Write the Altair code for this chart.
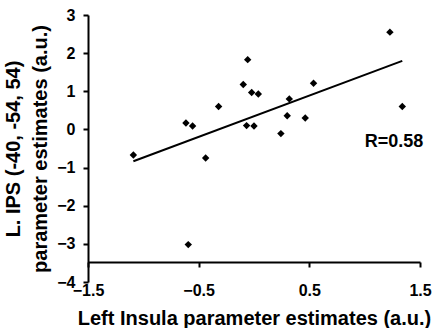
import altair as alt
import pandas as pd

# Data
insula = [-1.09, -0.615, -0.555, -0.594, -0.437, -0.32, -0.097, -0.057, -0.021, 0.039,
          -0.067, 0.0, 0.243, 0.30, 0.319, 0.463, 0.538, 1.228, 1.34]
ips = [-0.67, 0.17, 0.09, -3.02, -0.75, 0.60, 1.18, 1.83, 0.97, 0.93,
       0.10, 0.09, -0.11, 0.36, 0.80, 0.30, 1.21, 2.55, 0.60]

x_ticks = [-1.5, -0.5, 0.5, 1.5]
y_ticks = [-4, -3, -2, -1, 0, 1, 2, 3]

note_text = ["R=0.58"]
note_x = [1.265]
note_y = [-0.45]

df = pd.DataFrame({"x": insula, "y": ips})
notes = pd.DataFrame({"x": note_x, "y": note_y, "t": note_text})

FONT = "Liberation Sans"

x_scale = alt.Scale(domain=[-1.5, 1.5], nice=False, zero=False)
y_scale = alt.Scale(domain=[-4, 3], nice=False, zero=False)

x_axis = alt.Axis(
    values=x_ticks, format=".1f", offset=-20, grid=False,
    domainColor="black", domainWidth=2, tickColor="black", tickWidth=2, tickSize=5,
    labelFont=FONT, labelFontSize=16, labelFontWeight="bold", labelColor="black",
    labelPadding=15, labelFlush=False, labelOverlap=False,
    title="Left Insula parameter estimates (a.u.)",
    titleFont=FONT, titleFontSize=20, titleFontWeight="bold", titleColor="black",
    titleX=166, titleY=62, titleBaseline="alphabetic", titleAlign="center",
)
y_axis = alt.Axis(
    values=y_ticks, tickCount=8, format="d", grid=False,
    domainColor="black", domainWidth=2, tickColor="black", tickWidth=2, tickSize=5,
    labelFont=FONT, labelFontSize=16, labelFontWeight="bold", labelColor="black",
    labelPadding=8, labelFlush=False, labelOverlap=False,
    title=["L. IPS (-40, -54, 54)", "parameter estimates (a.u.)"],
    titleFont=FONT, titleFontSize=20, titleFontWeight="bold", titleColor="black",
    titleLineHeight=27, titleX=-69, titleY=133.5, titleAngle=270,
    titleBaseline="alphabetic", titleAlign="center",
)

X = alt.X("x:Q", scale=x_scale, axis=x_axis)
Y = alt.Y("y:Q", scale=y_scale, axis=y_axis)

base = alt.Chart(df)

points = base.mark_point(shape="diamond", filled=True, color="black", size=55, opacity=1).encode(
    x=X, y=Y,
)

fit = base.transform_regression("x", "y").mark_line(color="black", strokeWidth=2).encode(
    x=X, y=Y,
)

label = alt.Chart(notes).mark_text(
    font=FONT, fontSize=18, fontWeight="bold", color="black",
    align="center", baseline="alphabetic",
).encode(
    x=X, y=Y,
    text="t:N",
)

chart = alt.layer(points, fit, label).properties(
    width=332, height=267,
    autosize=alt.AutoSizeParams(type="none"),
    padding={"left": 88, "top": 15, "right": 15, "bottom": 46},
    background="white",
).configure_view(stroke=None)

chart.save("out.html", embed_options={"renderer": "svg", "actions": False})
